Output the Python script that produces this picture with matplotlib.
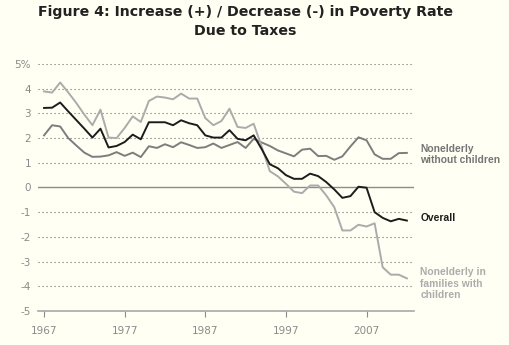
import matplotlib
matplotlib.use("Agg")
import matplotlib.pyplot as plt

years = list(range(1967, 2013))

overall = [3.22, 3.23, 3.44, 3.08, 2.73, 2.38, 2.02, 2.38, 1.62, 1.68,
           1.84, 2.14, 1.95, 2.64, 2.64, 2.64, 2.52, 2.72, 2.60, 2.52,
           2.11, 2.02, 2.02, 2.32, 1.97, 1.91, 2.11, 1.55, 0.94, 0.78,
           0.50, 0.35, 0.35, 0.56, 0.46, 0.22, -0.08, -0.42, -0.35, 0.03,
           -0.01, -1.00, -1.23, -1.37, -1.27, -1.34]

no_children = [2.11, 2.52, 2.47, 2.00, 1.70, 1.41, 1.24, 1.25, 1.30, 1.43,
               1.28, 1.41, 1.23, 1.67, 1.60, 1.75, 1.63, 1.83, 1.72, 1.60,
               1.63, 1.78, 1.60, 1.72, 1.84, 1.60, 1.97, 1.82, 1.68, 1.50,
               1.38, 1.26, 1.53, 1.57, 1.27, 1.28, 1.12, 1.26, 1.66, 2.03,
               1.91, 1.34, 1.16, 1.16, 1.39, 1.40]

with_children = [3.89, 3.84, 4.25, 3.85, 3.42, 2.95, 2.52, 3.15, 2.02, 2.00,
                 2.41, 2.88, 2.65, 3.50, 3.68, 3.64, 3.57, 3.80, 3.60, 3.60,
                 2.81, 2.52, 2.69, 3.19, 2.45, 2.41, 2.58, 1.65, 0.66, 0.45,
                 0.15, -0.17, -0.23, 0.08, 0.08, -0.32, -0.80, -1.74, -1.74, -1.51,
                 -1.58, -1.45, -3.23, -3.53, -3.53, -3.68]

ytick_vals = [-5, -4, -3, -2, -1, 0, 1, 2, 3, 4, 5]
ytick_labels = ["-5", "-4", "-3", "-2", "-1", "0", "1", "2", "3", "4", "5%"]
xtick_vals = [1967, 1977, 1987, 1997, 2007]

bg = "#fffff3"
c_black = "#1c1c1c"
c_dark = "#7d7d7d"
c_light = "#ababab"
c_text = "#8a8a8a"

plt.rcParams["font.family"] = ["DejaVu Sans"]

fig = plt.figure(figsize=(5.1, 3.45), dpi=100, facecolor=bg)
ax = fig.add_axes([0.0745, 0.0986, 0.7375, 0.716], facecolor=bg)

# gridlines
for v in ytick_vals:
    if v == 0:
        ax.axhline(v, color="#8c8c8c", lw=1.0, zorder=1)
    elif v != -5:
        ax.axhline(v, color="#6e6e6e", lw=0.8, ls=(0, (1, 2.6)), zorder=1)

ax.plot(years, no_children, color=c_dark, lw=1.4, zorder=3)
ax.plot(years, with_children, color=c_light, lw=1.4, zorder=3)
ax.plot(years, overall, color=c_black, lw=1.4, zorder=4)

ax.set_xlim(1966.25, 2012.9)
ax.set_ylim(-5, 5)

for s in ["top", "right", "left"]:
    ax.spines[s].set_visible(False)
ax.spines["bottom"].set_color("#a8a8a8")
ax.spines["bottom"].set_linewidth(1.2)

ax.set_xticks(xtick_vals)
ax.set_xticklabels([str(y) for y in xtick_vals])
ax.set_yticks(ytick_vals)
ax.set_yticklabels(ytick_labels)
ax.tick_params(axis="x", direction="out", length=4, width=0.8, color="#8a8a8a",
               labelcolor=c_text, labelsize=7.5, pad=7)
ax.tick_params(axis="y", length=0, labelcolor=c_text, labelsize=7.5, pad=5)

# series labels at right
lab = dict(fontsize=7.4, fontweight="bold", family="Liberation Sans",
           ha="left", va="center", clip_on=False, linespacing=1.2)
ax.text(2013.65, 1.34, "Nonelderly\nwithout children", color="#757575", **lab)
ax.text(2013.65, -1.23, "Overall", color=c_black, **lab)
ax.text(2013.65, -3.9, "Nonelderly in\nfamilies with\nchildren", color="#acacac", **lab)

fig.text(0.481, 0.965, "Figure 4: Increase (+) / Decrease (-) in Poverty Rate",
         ha="center", va="center", fontsize=10.2, fontweight="bold", color="#222222")
fig.text(0.481, 0.91, "Due to Taxes",
         ha="center", va="center", fontsize=10.2, fontweight="bold", color="#222222")

fig.savefig("out.png", dpi=100, facecolor=bg)
